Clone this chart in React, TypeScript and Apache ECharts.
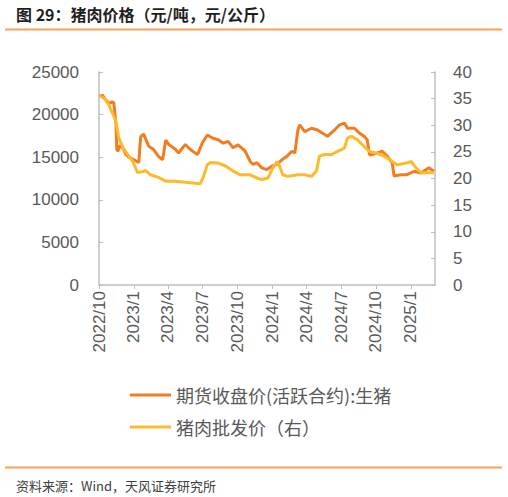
import React, { useEffect, useRef } from "react";
import * as echarts from "echarts";

// 期货收盘价(活跃合约):生猪, 元/吨
const futuresDates = [
  "2022-10-03", "2022-10-10", "2022-10-16", "2022-10-27", "2022-11-04", "2022-11-09",
  "2022-11-15", "2022-11-17", "2022-11-20", "2022-11-25", "2022-12-03", "2022-12-11",
  "2022-12-19", "2023-01-01", "2023-01-14", "2023-01-19", "2023-01-27", "2023-02-09",
  "2023-02-22", "2023-03-07", "2023-03-18", "2023-03-26", "2023-04-03", "2023-04-21",
  "2023-04-29", "2023-05-17", "2023-05-30", "2023-06-18", "2023-07-01", "2023-07-14",
  "2023-07-27", "2023-08-12", "2023-08-25", "2023-09-07", "2023-09-20", "2023-10-03",
  "2023-10-22", "2023-11-04", "2023-11-12", "2023-11-22", "2023-12-05", "2023-12-18",
  "2023-12-31", "2024-01-14", "2024-01-27", "2024-02-09", "2024-02-22", "2024-03-01",
  "2024-03-09", "2024-03-14", "2024-03-27", "2024-04-14", "2024-04-30", "2024-05-26",
  "2024-06-14", "2024-06-27", "2024-07-10", "2024-07-18", "2024-08-05", "2024-08-18",
  "2024-08-31", "2024-09-08", "2024-09-14", "2024-09-21", "2024-10-05", "2024-10-18",
  "2024-10-31", "2024-11-13", "2024-11-18", "2024-12-06", "2024-12-22", "2025-01-10",
  "2025-01-28", "2025-02-18", "2025-03-03",
];
const futuresPrices = [
  22100, 22300, 21900, 21300, 21500, 21400,
  18800, 15900, 15700, 16400, 16100, 15300,
  15000, 14700, 14400, 17400, 17700, 16300,
  15900, 15100, 14700, 17000, 16500, 15900,
  15500, 16500, 15900, 15300, 16700, 17600,
  17250, 17050, 16650, 16850, 16100, 16450,
  15700, 14500, 14150, 14350, 13750, 13550,
  13950, 14150, 14700, 15100, 15700, 15500,
  18200, 18800, 18000, 18400, 18200, 17450,
  18200, 18800, 19000, 18400, 18400, 17850,
  17450, 17050, 15300, 15300, 15500, 15700,
  15100, 14350, 12800, 12950, 12950, 13350,
  13150, 13750, 13350,
];

// 猪肉批发价（右）, 元/公斤
const wholesaleDates = [
  "2022-10-03", "2022-10-16", "2022-10-27", "2022-11-04", "2022-11-15", "2022-11-22",
  "2022-12-03", "2022-12-16", "2022-12-29", "2023-01-11", "2023-01-24", "2023-02-01",
  "2023-02-14", "2023-03-07", "2023-03-26", "2023-04-21", "2023-05-17", "2023-06-12",
  "2023-06-25", "2023-07-03", "2023-07-14", "2023-07-22", "2023-08-12", "2023-09-01",
  "2023-09-20", "2023-10-09", "2023-11-04", "2023-11-22", "2023-12-05", "2023-12-21",
  "2024-01-03", "2024-01-14", "2024-01-21", "2024-01-29", "2024-02-11", "2024-03-09",
  "2024-03-27", "2024-04-14", "2024-04-27", "2024-05-05", "2024-05-18", "2024-06-06",
  "2024-06-22", "2024-07-10", "2024-07-18", "2024-07-28", "2024-08-13", "2024-08-31",
  "2024-09-14", "2024-10-02", "2024-10-23", "2024-11-13", "2024-11-26", "2024-12-20",
  "2025-01-02", "2025-01-15", "2025-01-28", "2025-02-18", "2025-03-03",
];
const wholesalePrices = [
  35.5, 35.0, 33.8, 32.5, 30.7, 27.7,
  25.8, 24.5, 23.2, 21.1, 21.3, 21.5,
  20.7, 20.2, 19.5, 19.5, 19.3, 19.1,
  19.0, 20.2, 22.6, 23.0, 22.9, 22.3,
  21.4, 20.7, 20.7, 20.1, 19.8, 20.1,
  22.0, 23.2, 22.3, 20.7, 20.4, 20.7,
  20.7, 20.4, 21.4, 24.2, 24.5, 24.5,
  25.1, 25.7, 27.6, 27.9, 27.3, 26.0,
  25.1, 24.8, 24.2, 23.2, 22.6, 22.9,
  23.2, 22.0, 21.1, 21.1, 21.1,
];

const seriesNames = ["期货收盘价(活跃合约):生猪", "猪肉批发价（右）"];
const leftTicks = { min: 0, max: 25000, interval: 5000 };
const rightTicks = { min: 0, max: 40, interval: 5 };
const quarterMonths = [1, 4, 7, 10];

const firstDay = "2022-10-01";
const lastDay = "2025-03-06";

// one category per calendar day, so the axis behaves like a date axis
const buildDays = (from: string, to: string) => {
  const days: string[] = [];
  const d = new Date(from + "T00:00:00Z");
  const end = new Date(to + "T00:00:00Z");
  while (d <= end) {
    days.push(d.toISOString().slice(0, 10));
    d.setUTCDate(d.getUTCDate() + 1);
  }
  return days;
};

const isQuarterStart = (_: number, value: string) => {
  const [, m, day] = value.split("-").map(Number);
  return day === 1 && quarterMonths.includes(m);
};

const ORANGE = "#F47C20";
const YELLOW = "#FDBB2B";
const RULE = "#F5A25D";
const GREY = "#595959";
const AXIS = "#BFBFBF";
const NUM_FONT = "'Liberation Sans', Arial, sans-serif";
const CJK_FONT = "'Noto Sans CJK SC', sans-serif";

const App: React.FC = () => {
  const chartRef = useRef<HTMLDivElement>(null);

  useEffect(() => {
    if (!chartRef.current) return;
    const chart = echarts.init(chartRef.current, undefined, { renderer: "svg" });
    const days = buildDays(firstDay, lastDay);

    const option: echarts.EChartsOption = {
      animation: false,
      grid: { left: 99, right: 73, top: 72, bottom: 212 },
      graphic: [
        {
          type: "text",
          left: 16,
          top: 6,
          style: {
            text: "图 29：猪肉价格（元/吨，元/公斤）",
            font: `bold 16px ${CJK_FONT}`,
            fill: "#1f1f1f",
          },
        },
        {
          type: "line",
          shape: { x1: 5, y1: 29.5, x2: 502, y2: 29.5 },
          style: { stroke: RULE, lineWidth: 2 },
        },
        {
          type: "line",
          shape: { x1: 5, y1: 467.5, x2: 502, y2: 467.5 },
          style: { stroke: RULE, lineWidth: 2 },
        },
        {
          type: "text",
          left: 16,
          top: 479,
          style: {
            text: "资料来源：Wind，天风证券研究所",
            font: `13px ${CJK_FONT}`,
            fill: "#404040",
          },
        },
      ],
      legend: {
        orient: "vertical",
        left: 125,
        top: 381,
        itemWidth: 41,
        itemHeight: 3,
        itemGap: 14,
        icon: "rect",
        selectedMode: false,
        textStyle: { fontSize: 18, color: GREY, fontFamily: CJK_FONT },
        data: seriesNames,
      },
      xAxis: {
        type: "category",
        data: days,
        boundaryGap: false,
        axisLine: { lineStyle: { color: AXIS, width: 1.5 } },
        axisTick: { interval: isQuarterStart, length: 4, lineStyle: { color: AXIS } },
        axisLabel: {
          interval: isQuarterStart,
          rotate: 90,
          margin: 6,
          fontSize: 17,
          color: GREY,
          fontFamily: NUM_FONT,
          formatter: (v: string) => {
            const [y, m] = v.split("-").map(Number);
            return `${y}/${m}`;
          },
        },
        splitLine: { show: false },
      },
      yAxis: [
        {
          type: "value",
          ...leftTicks,
          axisLine: { show: true, lineStyle: { color: AXIS, width: 1.5 } },
          axisTick: { show: true, inside: true, length: 4, lineStyle: { color: AXIS } },
          axisLabel: {
            margin: 20,
            fontSize: 17,
            color: GREY,
            fontFamily: NUM_FONT,
            formatter: (v: number) => String(v),
          },
          splitLine: { show: false },
        },
        {
          type: "value",
          ...rightTicks,
          position: "right",
          axisLine: { show: true, lineStyle: { color: AXIS, width: 1.5 } },
          axisTick: { show: true, inside: true, length: 4, lineStyle: { color: AXIS } },
          axisLabel: { margin: 18, fontSize: 17, color: GREY, fontFamily: NUM_FONT },
          splitLine: { show: false },
        },
      ],
      series: [
        {
          name: seriesNames[0],
          type: "line",
          yAxisIndex: 0,
          symbol: "none",
          color: ORANGE,
          lineStyle: { width: 3, color: ORANGE },
          data: futuresDates.map((d, i) => [d, futuresPrices[i]]),
        },
        {
          name: seriesNames[1],
          type: "line",
          yAxisIndex: 1,
          symbol: "none",
          color: YELLOW,
          lineStyle: { width: 3, color: YELLOW },
          data: wholesaleDates.map((d, i) => [d, wholesalePrices[i]]),
        },
      ],
    };

    chart.setOption(option);
    return () => {
      chart.dispose();
    };
  }, []);

  return (
    <div
      ref={chartRef}
      style={{ position: "fixed", left: 0, top: 0, width: "508px", height: "497px", background: "#fff" }}
    />
  );
};

export default App;
